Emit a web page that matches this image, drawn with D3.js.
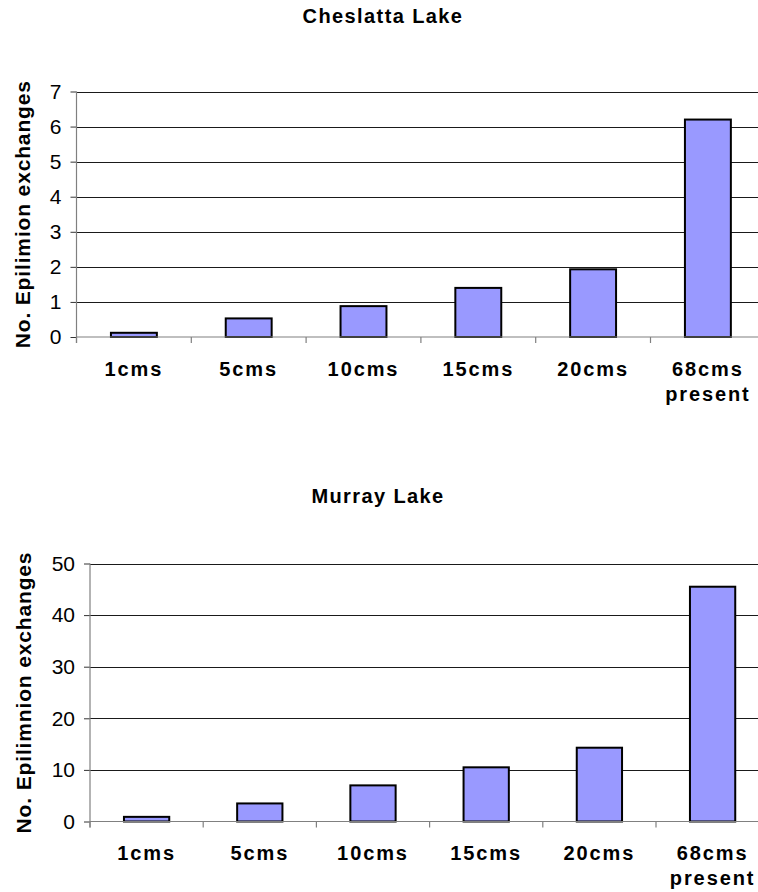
<!DOCTYPE html>
<html>
<head>
<meta charset="utf-8">
<script src="https://cdn.jsdelivr.net/npm/d3@7"></script>
<style>
  html, body { margin: 0; padding: 0; background: #fff; overflow: hidden; }
  svg { display: block; }
  text { font-family: Arial, "Liberation Sans", sans-serif; fill: #000; }
</style>
</head>
<body>
<script>
// Flow scenarios (last one is the present release, drawn on two lines)
const categories = ["1cms", "5cms", "10cms", "15cms", "20cms", "68cms present"];

// Number of epilimnion exchanges per scenario
const cheslattaValues = [0.12, 0.53, 0.88, 1.40, 1.93, 6.20];
const murrayValues = [0.9, 3.5, 7.0, 10.5, 14.3, 45.5];

// Y-axis tick values
const cheslattaTicks = [0, 1, 2, 3, 4, 5, 6, 7];
const murrayTicks = [0, 10, 20, 30, 40, 50];

const W = 758, H = 892;
const svg = d3.select("body").append("svg").attr("width", W).attr("height", H);

const panels = [
  { title: "Cheslatta Lake", yTitle: "No. Epilimion exchanges", values: cheslattaValues,
    ticks: cheslattaTicks, left: 76.5, top: 91.5, bottom: 337, step: 114.8,
    titleX: 383, titleY: 23, yTitleX: 30 },
  { title: "Murray Lake", yTitle: "No. Epilimnion exchanges", values: murrayValues,
    ticks: murrayTicks, left: 90, top: 563.5, bottom: 821.5, step: 113.2,
    titleX: 378, titleY: 502.5, yTitleX: 31 }
];

panels.forEach(p => {
  const g = svg.append("g");
  const right = p.left + p.step * categories.length;
  const yMax = p.ticks[p.ticks.length - 1];

  const x = d3.scaleBand()
    .domain(categories)
    .range([p.left, right])
    .paddingInner(0.6)
    .paddingOuter(0.3);

  const y = d3.scaleLinear().domain([0, yMax]).range([p.bottom, p.top]);

  // Chart title
  g.append("text")
    .attr("x", p.titleX).attr("y", p.titleY)
    .attr("text-anchor", "middle")
    .style("font-size", "20px").style("font-weight", "bold")
    .style("letter-spacing", "1.4px")
    .text(p.title);

  // Horizontal gridlines
  g.append("g").selectAll("line")
    .data(p.ticks.filter(t => t > 0))
    .join("line")
    .attr("x1", p.left).attr("x2", right)
    .attr("y1", d => Math.round(y(d)) + 0.5).attr("y2", d => Math.round(y(d)) + 0.5)
    .attr("stroke", "#1a1a1a").attr("stroke-width", 1);

  // Bars
  g.append("g").selectAll("rect")
    .data(p.values)
    .join("rect")
    .attr("x", (d, i) => x(categories[i]))
    .attr("width", x.bandwidth())
    .attr("y", d => y(d))
    .attr("height", d => y(0) - y(d))
    .attr("fill", "#9999ff")
    .attr("stroke", "#000")
    .attr("stroke-width", 2);

  // Y axis
  const yAxis = d3.axisLeft(y).tickValues(p.ticks).tickFormat(d3.format("d"))
    .tickSize(6).tickPadding(9);
  const ya = g.append("g").attr("transform", `translate(${p.left},0)`).call(yAxis);
  ya.select(".domain").remove();
  ya.selectAll(".tick line").attr("stroke", "#333");
  ya.selectAll(".tick text")
    .style("font-size", "21px")
    .style("font-family", "Arial, 'Liberation Sans', sans-serif")
    .attr("fill", "#000");
  g.append("line")
    .attr("x1", p.left).attr("x2", p.left)
    .attr("y1", y(yMax)).attr("y2", y(0) + 6)
    .attr("stroke", "#808080").attr("stroke-width", 1.2);

  // X axis baseline and category boundary ticks
  g.append("line")
    .attr("x1", p.left).attr("x2", right)
    .attr("y1", y(0)).attr("y2", y(0))
    .attr("stroke", "#808080").attr("stroke-width", 1.2);
  g.append("g").selectAll("line")
    .data(d3.range(categories.length + 1))
    .join("line")
    .attr("x1", i => p.left + i * p.step).attr("x2", i => p.left + i * p.step)
    .attr("y1", y(0)).attr("y2", y(0) + 6)
    .attr("stroke", "#808080").attr("stroke-width", 1.2);

  // Category labels
  const lbl = g.append("g").selectAll("text")
    .data(categories)
    .join("text")
    .attr("x", d => x(d) + x.bandwidth() / 2)
    .attr("y", y(0) + 38.5)
    .attr("text-anchor", "middle")
    .style("font-size", "20px").style("font-weight", "bold")
    .style("letter-spacing", "1.9px");
  lbl.selectAll("tspan")
    .data(d => d.split(" "))
    .join("tspan")
    .attr("x", function () { return d3.select(this.parentNode).attr("x"); })
    .attr("dy", (d, i) => i === 0 ? 0 : 25)
    .text(d => d);

  // Y axis title
  g.append("text")
    .attr("transform", `translate(${p.yTitleX},${(p.top + p.bottom) / 2}) rotate(-90)`)
    .attr("text-anchor", "middle")
    .style("font-size", "21px").style("font-weight", "bold")
    .style("letter-spacing", "0.85px")
    .text(p.yTitle);
});
</script>
</body>
</html>
